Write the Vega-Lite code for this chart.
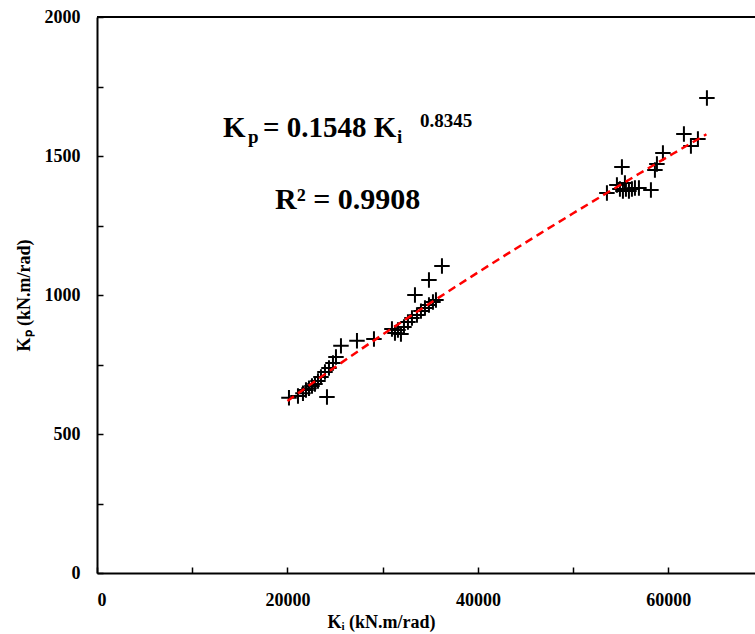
{
  "$schema": "https://vega.github.io/schema/vega-lite/v6.json",
  "width": 658,
  "height": 556,
  "autosize": {"type": "none"},
  "padding": {"left": 97, "top": 17, "right": 0, "bottom": 61},
  "background": "white",
  "config": {
    "view": {"stroke": null},
    "font": "Liberation Serif",
    "axis": {
      "grid": false,
      "domainColor": "black",
      "domainWidth": 2,
      "tickColor": "black",
      "tickWidth": 1.5,
      "tickSize": -6,
      "labelFont": "Liberation Serif",
      "labelFontWeight": "bold",
      "labelFontSize": 18,
      "labelColor": "black",
      "titleFont": "Liberation Serif",
      "titleFontWeight": "bold",
      "titleFontSize": 18,
      "titleColor": "black"
    }
  },
  "datasets": {
    "pts": [
      {"Ki": 20160, "Kp": 630}, {"Ki": 21105, "Kp": 637}, {"Ki": 21630, "Kp": 647}, {"Ki": 21945, "Kp": 658},
      {"Ki": 22260, "Kp": 665}, {"Ki": 22575, "Kp": 673}, {"Ki": 22890, "Kp": 680}, {"Ki": 23205, "Kp": 691},
      {"Ki": 23520, "Kp": 705}, {"Ki": 24150, "Kp": 633}, {"Ki": 23940, "Kp": 723}, {"Ki": 24360, "Kp": 737},
      {"Ki": 24780, "Kp": 755}, {"Ki": 25095, "Kp": 777}, {"Ki": 25620, "Kp": 817}, {"Ki": 27300, "Kp": 835},
      {"Ki": 29085, "Kp": 842},
      {"Ki": 30975, "Kp": 878}, {"Ki": 31290, "Kp": 863}, {"Ki": 31605, "Kp": 874}, {"Ki": 31920, "Kp": 860},
      {"Ki": 32235, "Kp": 885}, {"Ki": 32655, "Kp": 903}, {"Ki": 33075, "Kp": 917}, {"Ki": 33600, "Kp": 928},
      {"Ki": 34020, "Kp": 942}, {"Ki": 34440, "Kp": 953}, {"Ki": 34860, "Kp": 964}, {"Ki": 35280, "Kp": 975},
      {"Ki": 35595, "Kp": 982}, {"Ki": 33390, "Kp": 1000}, {"Ki": 34860, "Kp": 1054}, {"Ki": 36225, "Kp": 1104},
      {"Ki": 53550, "Kp": 1367}, {"Ki": 54600, "Kp": 1396}, {"Ki": 55125, "Kp": 1460}, {"Ki": 54915, "Kp": 1381},
      {"Ki": 55230, "Kp": 1374}, {"Ki": 55545, "Kp": 1381}, {"Ki": 55860, "Kp": 1374}, {"Ki": 56175, "Kp": 1381},
      {"Ki": 56490, "Kp": 1385}, {"Ki": 56910, "Kp": 1385}, {"Ki": 55440, "Kp": 1403}, {"Ki": 58170, "Kp": 1378},
      {"Ki": 58590, "Kp": 1450}, {"Ki": 58800, "Kp": 1471}, {"Ki": 59430, "Kp": 1511}, {"Ki": 61635, "Kp": 1579},
      {"Ki": 62370, "Kp": 1536}, {"Ki": 63105, "Kp": 1561}, {"Ki": 64050, "Kp": 1709}
    ]
  },
  "layer": [
    {
      "data": {"name": "pts"},
      "mark": {"type": "point", "shape": "M-1,0L1,0M0,-1L0,1", "size": 240, "stroke": "black", "strokeWidth": 2, "filled": false, "opacity": 1},
      "encoding": {
        "x": {
          "field": "Ki", "type": "quantitative",
          "scale": {"domain": [0, 69100], "nice": false, "zero": true},
          "axis": {
            "values": [0, 10000, 20000, 30000, 40000, 50000, 60000],
            "format": "d",
            "labelExpr": "datum.value % 20000 === 0 ? datum.label : ''",
            "labelPadding": 24,
            "title": "Kᵢ (kN.m/rad)",
            "titleX": 284,
            "titlePadding": 4
          }
        },
        "y": {
          "field": "Kp", "type": "quantitative",
          "scale": {"domain": [0, 2000], "nice": false},
          "axis": {
            "values": [0, 250, 500, 750, 1000, 1250, 1500, 1750, 2000],
            "format": "d",
            "labelExpr": "datum.value % 500 === 0 ? datum.label : ''",
            "labelPadding": 23,
            "title": "Kₚ (kN.m/rad)",
            "titlePadding": 11
          }
        }
      }
    },
    {
      "data": {"name": "pts"},
      "transform": [{"regression": "Kp", "on": "Ki", "method": "pow", "extent": [20000, 64000]}],
      "mark": {"type": "line", "color": "#ff0000", "strokeDash": [8, 5], "strokeWidth": 2.5},
      "encoding": {
        "x": {"field": "Ki", "type": "quantitative"},
        "y": {"field": "Kp", "type": "quantitative"}
      }
    },
    {
      "data": {"values": [{}]},
      "mark": {"type": "rule", "stroke": "black", "strokeWidth": 2},
      "encoding": {"y": {"datum": 2000, "type": "quantitative"}}
    },
    {
      "data": {"values": [{}]},
      "mark": {"type": "text", "text": "K", "font": "Liberation Serif", "fontWeight": "bold", "fontSize": 29, "align": "left", "baseline": "alphabetic", "color": "black"},
      "encoding": {"x": {"datum": 13230, "type": "quantitative"}, "y": {"datum": 1568, "type": "quantitative"}}
    },
    {
      "data": {"values": [{}]},
      "mark": {"type": "text", "text": "p", "font": "Liberation Serif", "fontWeight": "bold", "fontSize": 19, "align": "left", "baseline": "alphabetic", "color": "black"},
      "encoding": {"x": {"datum": 15855, "type": "quantitative"}, "y": {"datum": 1547, "type": "quantitative"}}
    },
    {
      "data": {"values": [{}]},
      "mark": {"type": "text", "text": "= 0.1548 K", "font": "Liberation Serif", "fontWeight": "bold", "fontSize": 29, "align": "left", "baseline": "alphabetic", "color": "black"},
      "encoding": {"x": {"datum": 17430, "type": "quantitative"}, "y": {"datum": 1568, "type": "quantitative"}}
    },
    {
      "data": {"values": [{}]},
      "mark": {"type": "text", "text": "i", "font": "Liberation Serif", "fontWeight": "bold", "fontSize": 19, "align": "left", "baseline": "alphabetic", "color": "black"},
      "encoding": {"x": {"datum": 31500, "type": "quantitative"}, "y": {"datum": 1547, "type": "quantitative"}}
    },
    {
      "data": {"values": [{}]},
      "mark": {"type": "text", "text": "0.8345", "font": "Liberation Serif", "fontWeight": "bold", "fontSize": 19, "align": "left", "baseline": "alphabetic", "color": "black"},
      "encoding": {"x": {"datum": 33915, "type": "quantitative"}, "y": {"datum": 1604, "type": "quantitative"}}
    },
    {
      "data": {"values": [{}]},
      "mark": {"type": "text", "text": "R² = 0.9908", "font": "Liberation Serif", "fontWeight": "bold", "fontSize": 30, "align": "left", "baseline": "alphabetic", "color": "black"},
      "encoding": {"x": {"datum": 18690, "type": "quantitative"}, "y": {"datum": 1309, "type": "quantitative"}}
    }
  ]
}
